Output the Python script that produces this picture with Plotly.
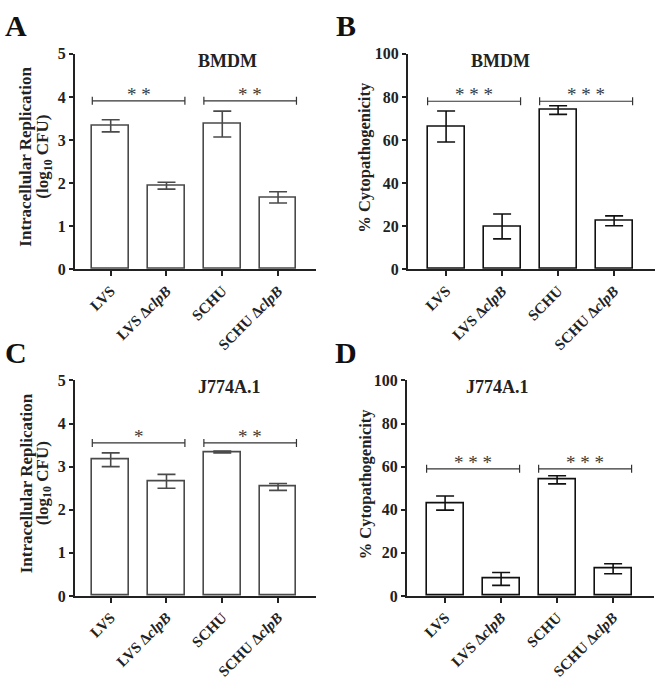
import plotly.graph_objects as go
from plotly.subplots import make_subplots

categories = ["LVS", "LVS Δ<i>clpB</i>", "SCHU", "SCHU Δ<i>clpB</i>"]

# panel A: BMDM replication (log10 CFU)
rep_bmdm = [3.33, 1.94, 3.37, 1.67]
rep_bmdm_err = [0.14, 0.08, 0.30, 0.13]
# panel B: BMDM cytopathogenicity (%)
cyto_bmdm = [66.3, 19.9, 73.9, 22.5]
cyto_bmdm_err = [7.2, 5.8, 2.0, 2.3]
# panel C: J774A.1 replication
rep_j774 = [3.16, 2.66, 3.34, 2.53]
rep_j774_err = [0.16, 0.16, 0.02, 0.08]
# panel D: J774A.1 cytopathogenicity
cyto_j774 = [43.1, 7.9, 53.9, 12.6]
cyto_j774_err = [3.3, 3.0, 1.9, 2.3]

rep_ticks = [0, 1, 2, 3, 4, 5]
cyto_ticks = [0, 20, 40, 60, 80, 100]

sig_a = ["**", "**"]
sig_b = ["***", "***"]
sig_c = ["*", "**"]
sig_d = ["***", "***"]
sig_level_a, sig_level_b, sig_level_c, sig_level_d = 3.91, 78, 3.55, 59

FONT = "Liberation Serif"
W, H = 660, 680
BARW = 0.66
REP_TITLE = ["Intracellular Replication", "(log<sub>10</sub> CFU)"]
CYTO_TITLE = ["% Cytopathogenicity"]

panels = [
    dict(vals=rep_bmdm, err=rep_bmdm_err, sig=sig_a, lvl=sig_level_a, title="BMDM", letter="A",
         ticks=rep_ticks, ytitle=REP_TITLE, tx=[26, 44], tsize=17,
         xdom=(75, 316), ydom=(47, 268), xr=(-0.64, 3.68), line="#4a4a4a"),
    dict(vals=cyto_bmdm, err=cyto_bmdm_err, sig=sig_b, lvl=sig_level_b, title="BMDM", letter="B",
         ticks=cyto_ticks, ytitle=CYTO_TITLE, tx=[365], tsize=16.5,
         xdom=(408, 655), ydom=(47, 268), xr=(-0.68, 3.73), line="#111111"),
    dict(vals=rep_j774, err=rep_j774_err, sig=sig_c, lvl=sig_level_c, title="J774A.1", letter="C",
         ticks=rep_ticks, ytitle=REP_TITLE, tx=[26, 44], tsize=17,
         xdom=(75, 316), ydom=(382, 603), xr=(-0.64, 3.68), line="#4a4a4a"),
    dict(vals=cyto_j774, err=cyto_j774_err, sig=sig_d, lvl=sig_level_d, title="J774A.1", letter="D",
         ticks=cyto_ticks, ytitle=CYTO_TITLE, tx=[365], tsize=16.5,
         xdom=(407, 654), ydom=(382, 603), xr=(-0.68, 3.73), line="#111111"),
]

fig = make_subplots(rows=2, cols=2)
pos = [(1, 1), (1, 2), (2, 1), (2, 2)]
xs = list(range(len(categories)))

for i, p in enumerate(panels):
    r, c = pos[i]
    fig.add_trace(go.Bar(x=xs, y=p["vals"], width=BARW,
                         marker=dict(color="white", line=dict(color=p["line"], width=1.6)),
                         error_y=dict(type="data", array=p["err"], visible=True,
                                      color=p["line"], thickness=1.6, width=9),
                         showlegend=False), row=r, col=c)
    n = "" if i == 0 else str(i + 1)
    xa, ya = "x" + n, "y" + n
    fig.layout["xaxis" + n].update(
        domain=[p["xdom"][0] / W, p["xdom"][1] / W], range=list(p["xr"]),
        tickmode="array", tickvals=xs, ticktext=["<b>%s</b>" % t for t in categories],
        tickangle=-45, ticks="outside", ticklen=5, tickwidth=1.5, tickcolor="#222",
        showline=True, linecolor="#222", linewidth=2, showgrid=False, zeroline=False,
        tickfont=dict(family=FONT, size=15, color="#222"))
    fig.layout["yaxis" + n].update(
        domain=[1 - p["ydom"][1] / H, 1 - p["ydom"][0] / H], range=[0, p["ticks"][-1]],
        tickmode="array", tickvals=p["ticks"], ticktext=["<b>%d</b>" % t for t in p["ticks"]],
        ticks="outside", ticklen=4, tickwidth=1.5, tickcolor="#222",
        showline=True, linecolor="#222", linewidth=2, showgrid=False, zeroline=False,
        tickfont=dict(family=FONT, size=16, color="#222"))

    # significance brackets: span outer edges of each pair of bars
    for k, s in enumerate(p["sig"]):
        x0 = xs[2 * k] - BARW / 2
        x1 = xs[2 * k + 1] + BARW / 2
        fig.add_shape(type="line", xref=xa, yref=ya, x0=x0, x1=x1, y0=p["lvl"], y1=p["lvl"],
                      line=dict(color="#333", width=1.2))
        for xe in (x0, x1):
            fig.add_shape(type="line", xref=xa, yref=ya, x0=xe, x1=xe,
                          ysizemode="pixel", yanchor=p["lvl"], y0=-4, y1=4,
                          line=dict(color="#333", width=1.2))
        fig.add_annotation(x=(x0 + x1) / 2, y=p["lvl"], xref=xa, yref=ya, text=" ".join(s),
                           showarrow=False, yanchor="bottom", yshift=-6,
                           font=dict(family=FONT, size=19, color="#3a3a3a"))

    xmid = (p["xdom"][0] + p["xdom"][1]) / 2 / W
    fig.add_annotation(x=xmid, y=1 - (p["ydom"][0] + 7) / H, xref="paper", yref="paper",
                       yanchor="middle", text="<b>%s</b>" % p["title"], showarrow=False,
                       font=dict(family=FONT, size=18, color="#222"))
    ymid = 1 - ((p["ydom"][0] + p["ydom"][1]) / 2 - 5) / H
    for line_text, tx in zip(p["ytitle"], p["tx"]):
        fig.add_annotation(x=tx / W, y=ymid, xref="paper", yref="paper",
                           xanchor="center", yanchor="middle",
                           text="<b>%s</b>" % line_text, textangle=-90, showarrow=False,
                           font=dict(family=FONT, size=p["tsize"], color="#222"))
    lx = 16 if c == 1 else 346
    ly = 18 if r == 1 else 353
    fig.add_annotation(x=lx / W, y=1 - ly / H, xref="paper", yref="paper",
                       xanchor="center", yanchor="middle", text="<b>%s</b>" % p["letter"],
                       showarrow=False, font=dict(family=FONT, size=30, color="#111"))

fig.update_layout(width=W, height=H, margin=dict(l=0, r=0, t=0, b=0),
                  plot_bgcolor="white", paper_bgcolor="white", bargap=0)

# page body has a default 8px margin; drop it so the figure sits at the window corner
fig.write_html("out.html", config={"displayModeBar": False},
               post_script="document.body.style.margin='0';")
